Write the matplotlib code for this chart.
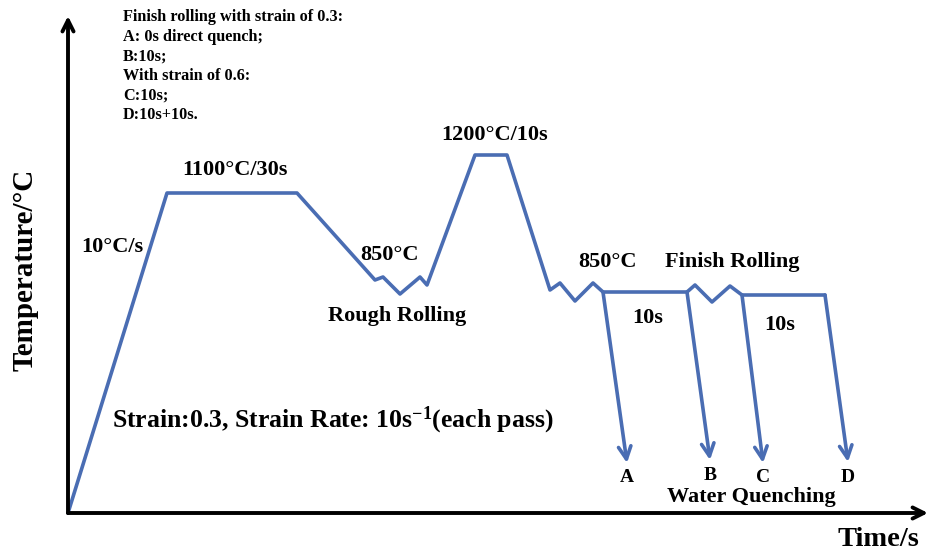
import matplotlib
matplotlib.use("Agg")
import matplotlib.pyplot as plt

plt.rcParams.update({
    "font.family": "Liberation Serif",
    "font.weight": "bold",
    "mathtext.fontset": "custom",
    "mathtext.rm": "Liberation Serif:bold",
    "mathtext.it": "Liberation Serif:bold:italic",
    "mathtext.bf": "Liberation Serif:bold",
})

LINE = "#4a6db3"

# thermal route (schematic time / temperature units)
route_t = [0, 99, 229, 307, 315, 332, 352, 359, 407, 439, 482, 492, 507, 525, 535,
           619, 627, 644, 662, 674, 757]
route_T = [0, 320, 320, 233, 236, 219, 236, 228, 358, 358, 223, 230, 212, 230, 221,
           221, 228, 211, 227, 218, 218]

# water quench branches: start (t, T) -> end (t, T)
quench_labels = ["A", "B", "C", "D"]
quench_t0 = [535, 619, 674, 757]
quench_T0 = [221, 221, 218, 218]
quench_t1 = [559, 642, 695, 780]
quench_T1 = [50, 53, 50, 51]

notes = ["Finish rolling with strain of 0.3:", "A: 0s direct quench;", "B:10s;",
         "With strain of 0.6:", "C:10s;", "D:10s+10s."]

fig = plt.figure(figsize=(9.29, 5.54), dpi=100)
ax = fig.add_axes([0, 0, 1, 1])
ax.set_xlim(-68, 861)
ax.set_ylim(-41, 513)
ax.axis("off")

# axes with arrows
arrow_k = dict(arrowstyle="->,head_length=0.8,head_width=0.4", lw=2.8,
               color="black", shrinkA=0, shrinkB=0)
ax.annotate("", xy=(0, 497), xytext=(0, 0), arrowprops=arrow_k)
ax.annotate("", xy=(860, 0), xytext=(0, 0), arrowprops=arrow_k)

ax.plot(route_t, route_T, color=LINE, lw=2.6, solid_joinstyle="round",
        solid_capstyle="round")

for lab, t0, T0, t1, T1 in zip(quench_labels, quench_t0, quench_T0, quench_t1, quench_T1):
    ax.annotate("", xy=(t1, T1), xytext=(t0, T0),
                arrowprops=dict(arrowstyle="->,head_length=0.9,head_width=0.45",
                                lw=2.6, color=LINE, shrinkA=0, shrinkB=0))
    ax.text(t1, T1 - 15, lab, ha="center", va="center", fontsize=14)

ax.text(683, 16, "Water Quenching", ha="center", va="center", fontsize=16)

# process annotations
fs = 16
ax.text(167, 343, "1100°C/30s", ha="center", va="center", fontsize=fs)
ax.text(44, 266, "10°C/s", ha="center", va="center", fontsize=fs)
ax.text(322, 258, "850°C", ha="center", va="center", fontsize=fs)
ax.text(329, 197, "Rough Rolling", ha="center", va="center", fontsize=fs)
ax.text(427, 378, "1200°C/10s", ha="center", va="center", fontsize=fs)
ax.text(540, 251, "850°C", ha="center", va="center", fontsize=fs)
ax.text(664, 251, "Finish Rolling", ha="center", va="center", fontsize=fs)
ax.text(580, 195, "10s", ha="center", va="center", fontsize=fs)
ax.text(712, 188, "10s", ha="center", va="center", fontsize=fs)
ax.text(44, 93, r"Strain:0.3, Strain Rate: 10s$^{\mathrm{-1}}$(each pass)",
        ha="left", va="center", fontsize=18.5)

for i, line in enumerate(notes):
    ax.text(55, 496 - i * 19.6, line, ha="left", va="center", fontsize=11.7)

ax.text(-43, 243, "Temperature/°C", rotation=90, ha="center", va="center", fontsize=21)
ax.text(810, -27, "Time/s", ha="center", va="center", fontsize=20.5)

fig.savefig("out.png", dpi=100)
